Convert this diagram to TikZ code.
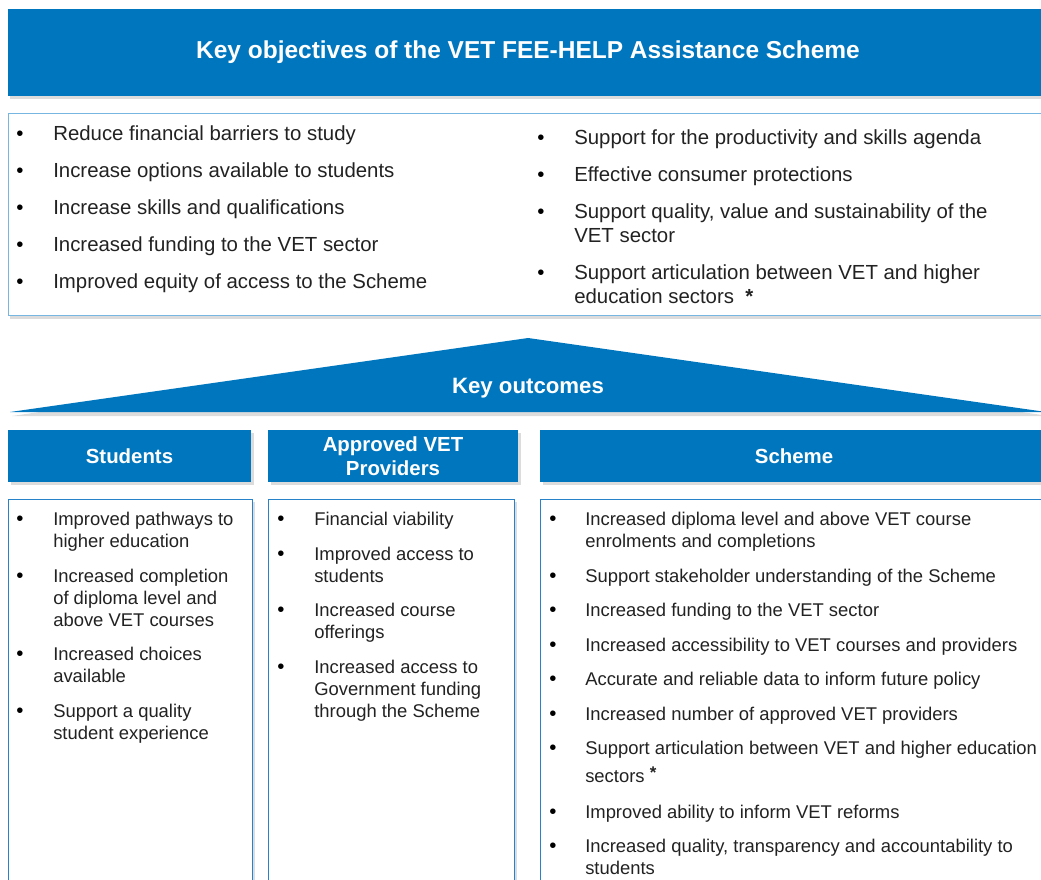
\documentclass[tikz,border=0pt]{standalone}
\usepackage{fontspec}
\setmainfont{Liberation Sans}
\usetikzlibrary{positioning}
\definecolor{vetblue}{RGB}{0,118,190}
\definecolor{paleblue}{RGB}{120,182,226}
\definecolor{edgeblue}{RGB}{40,130,202}
\definecolor{shadowgray}{RGB}{220,220,220}
\definecolor{textgray}{RGB}{34,34,34}
\newcommand{\lines}[1]{\begin{tabular}[t]{@{}l@{}}#1\end{tabular}}
\tikzset{
  bar/.style={fill=vetblue},
  barshadow/.style={fill=shadowgray},
  titletext/.style={text=white,font=\fontsize{17.4}{20}\selectfont\bfseries,align=center,inner sep=0pt},
  headtext/.style={text=white,font=\fontsize{14.5}{17}\selectfont\bfseries,align=center,inner sep=0pt},
  listitem/.style={anchor=base west,inner sep=0pt,text=textgray,font=\fontsize{13.1}{15.65}\selectfont},
  listdot/.style={anchor=base,inner sep=0pt,text=black,font=\fontsize{14.5}{15.65}\selectfont},
  bigitem/.style={listitem,font=\fontsize{14.5}{17}\selectfont},
}

\begin{document}
\begin{tikzpicture}[x=0.025cm,y=-0.025cm]
  \useasboundingbox (0,0) rectangle (1041,880);
  \clip (0,0) rectangle (1041,880);

  % objectives banner
  \fill[barshadow] (10,12) rectangle (1048,99);
  \fill[bar] (8,9) rectangle (1046,96);
  \node[titletext] (title) at (528,52) {Key objectives of the VET FEE-HELP Assistance Scheme};

  \fill[barshadow] (10,116) rectangle (1048,319);
  \draw[paleblue,fill=white] (8,113) rectangle (1046,315);
  \foreach \y/\t [count=\i] in {141/{Reduce financial barriers to study},
      178/{Increase options available to students},
      215/{Increase skills and qualifications},
      252/{Increased funding to the VET sector},
      288/{Improved equity of access to the Scheme}}{
    \node[listdot] (objl-\i-dot) at (20,\y) {\textbullet};
    \node[bigitem] (objl-\i) at (53,\y) {\t};
  }
  \foreach \y/\t [count=\i] in {145/{Support for the productivity and skills agenda},
      182/{Effective consumer protections},
      219/{\lines{Support quality, value and sustainability of the\\VET sector}},
      280/{\lines{Support articulation between VET and higher\\education sectors\ \ \textbf{*}}}}{
    \node[listdot] (objr-\i-dot) at (541,\y) {\textbullet};
    \node[bigitem] (objr-\i) at (574,\y) {\t};
  }

  % outcomes roof
  \fill[barshadow] (12,416) -- (530,341) -- (1049,416) -- cycle;
  \fill[bar] (10,412) -- (528,338) -- (1046,412) -- cycle;
  \node[titletext,font=\fontsize{15.8}{18}\selectfont\bfseries] (outcomes) at (528,388) {Key outcomes};

  % column headers
  \fill[barshadow] (11,433) rectangle (254,485);
  \fill[bar] (8,430) rectangle (251,482);
  \node[headtext] (students) at (129.5,456) {Students};
  \fill[barshadow] (271,433) rectangle (521,485);
  \fill[bar] (268,430) rectangle (518,482);
  \node[headtext] (providers) at (393,456) {Approved VET\\Providers};
  \fill[barshadow] (543,433) rectangle (1049,485);
  \fill[bar] (540,430) rectangle (1046,482);
  \node[headtext] (scheme) at (794,456) {Scheme};

  % column boxes
  \fill[barshadow] (11,502) rectangle (255,900);
  \draw[edgeblue,fill=white] (8,499) rectangle (252,900);
  \fill[barshadow] (271,502) rectangle (517,900);
  \draw[edgeblue,fill=white] (268,499) rectangle (514,900);
  \fill[barshadow] (543,502) rectangle (1049,900);
  \draw[edgeblue,fill=white] (540,499) rectangle (1046,900);

  \foreach \y/\t [count=\i] in {525/{\lines{Improved pathways to\\higher education}},
      582/{\lines{Increased completion\\of diploma level and\\above VET courses}},
      660/{\lines{Increased choices\\available}},
      717/{\lines{Support a quality\\student experience}}}{
    \node[listdot] (stu-\i-dot) at (20,\y) {\textbullet};
    \node[listitem] (stu-\i) at (53,\y) {\t};
  }
  \foreach \y/\t [count=\i] in {525/{Financial viability},
      560/{\lines{Improved access to\\students}},
      616/{\lines{Increased course\\offerings}},
      673/{\lines{Increased access to\\Government funding\\through the Scheme}}}{
    \node[listdot] (prov-\i-dot) at (281,\y) {\textbullet};
    \node[listitem] (prov-\i) at (314,\y) {\t};
  }
  \foreach \y/\t [count=\i] in {525/{\lines{Increased diploma level and above VET course\\enrolments and completions}},
      582/{Support stakeholder understanding of the Scheme},
      616/{Increased funding to the VET sector},
      651/{Increased accessibility to VET courses and providers},
      685/{Accurate and reliable data to inform future policy},
      720/{Increased number of approved VET providers},
      754/{\lines{Support articulation between VET and higher education\\[4.3pt]sectors \raisebox{3pt}{\large\textbf{*}}}},
      818/{Improved ability to inform VET reforms},
      852/{\lines{Increased quality, transparency and accountability to\\students}}}{
    \node[listdot] (sch-\i-dot) at (553,\y) {\textbullet};
    \node[listitem] (sch-\i) at (585,\y) {\t};
  }
\end{tikzpicture}
\end{document}
